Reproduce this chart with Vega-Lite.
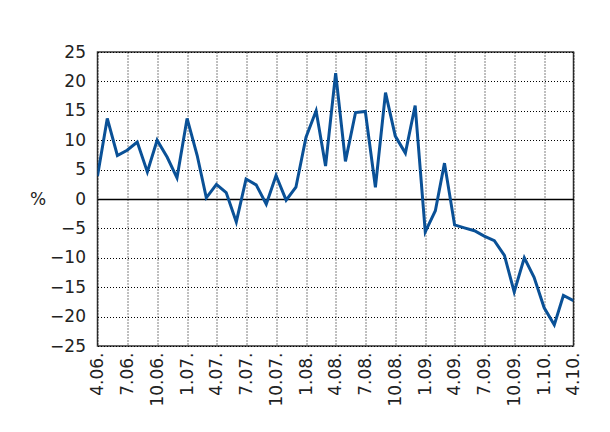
{
  "$schema": "https://vega.github.io/schema/vega-lite/v6.json",
  "autosize": {"type": "none"},
  "padding": {"left": 97.5, "top": 52, "right": 36, "bottom": 86},
  "width": 476,
  "height": 294,
  "background": "white",
  "config": {
    "view": {"stroke": "#333333", "strokeWidth": 1.5},
    "font": "DejaVu Sans"
  },
  "data": {
    "values": [
      {"date": "2006-04-01", "value": 3.9},
      {"date": "2006-05-01", "value": 13.7},
      {"date": "2006-06-01", "value": 7.4},
      {"date": "2006-07-01", "value": 8.3},
      {"date": "2006-08-01", "value": 9.7},
      {"date": "2006-09-01", "value": 4.6},
      {"date": "2006-10-01", "value": 10.0},
      {"date": "2006-11-01", "value": 7.1},
      {"date": "2006-12-01", "value": 3.6},
      {"date": "2007-01-01", "value": 13.7},
      {"date": "2007-02-01", "value": 7.4},
      {"date": "2007-03-01", "value": 0.2},
      {"date": "2007-04-01", "value": 2.5},
      {"date": "2007-05-01", "value": 1.1},
      {"date": "2007-06-01", "value": -3.9},
      {"date": "2007-07-01", "value": 3.4},
      {"date": "2007-08-01", "value": 2.4},
      {"date": "2007-09-01", "value": -0.9},
      {"date": "2007-10-01", "value": 4.0},
      {"date": "2007-11-01", "value": -0.2},
      {"date": "2007-12-01", "value": 2.0},
      {"date": "2008-01-01", "value": 10.5},
      {"date": "2008-02-01", "value": 15.0},
      {"date": "2008-03-01", "value": 5.6},
      {"date": "2008-04-01", "value": 21.4},
      {"date": "2008-05-01", "value": 6.4},
      {"date": "2008-06-01", "value": 14.7},
      {"date": "2008-07-01", "value": 14.9},
      {"date": "2008-08-01", "value": 2.0},
      {"date": "2008-09-01", "value": 18.1},
      {"date": "2008-10-01", "value": 10.7},
      {"date": "2008-11-01", "value": 7.8},
      {"date": "2008-12-01", "value": 15.9},
      {"date": "2009-01-01", "value": -5.6},
      {"date": "2009-02-01", "value": -2.0},
      {"date": "2009-03-01", "value": 6.1},
      {"date": "2009-04-01", "value": -4.4},
      {"date": "2009-05-01", "value": -4.9},
      {"date": "2009-06-01", "value": -5.4},
      {"date": "2009-07-01", "value": -6.3},
      {"date": "2009-08-01", "value": -7.1},
      {"date": "2009-09-01", "value": -9.6},
      {"date": "2009-10-01", "value": -15.8},
      {"date": "2009-11-01", "value": -10.0},
      {"date": "2009-12-01", "value": -13.3},
      {"date": "2010-01-01", "value": -18.5},
      {"date": "2010-02-01", "value": -21.4},
      {"date": "2010-03-01", "value": -16.4},
      {"date": "2010-04-01", "value": -17.3}
    ]
  },
  "mark": {"type": "line", "color": "#0a5197", "strokeWidth": 3, "strokeJoin": "miter", "clip": true},
  "encoding": {
    "x": {
      "field": "date",
      "type": "temporal",
      "scale": {"type": "utc", "domain": ["2006-04-01", "2010-04-01"]},
      "axis": {
        "title": null,
        "labelExpr": "utcFormat(datum.value, '%-m.%y.')",
        "tickCount": {"interval": "month", "step": 3},
        "labelAngle": -90,
        "labelAlign": "right",
        "labelBaseline": "middle",
        "labelFontSize": 17,
        "labelColor": "#222222",
        "labelPadding": 6,
        "labelOverlap": false,
        "labelFlush": false,
        "ticks": false,
        "domain": false,
        "grid": true,
        "gridColor": "#000000",
        "gridDash": [1, 2],
        "gridWidth": 1,
        "gridOpacity": 1
      }
    },
    "y": {
      "field": "value",
      "type": "quantitative",
      "scale": {"domain": [-25, 25], "nice": false, "zero": false},
      "axis": {
        "values": [-25, -20, -15, -10, -5, 0, 5, 10, 15, 20, 25],
        "labelExpr": "replace(format(datum.value, 'd'), '-', '−')",
        "labelFontSize": 17,
        "labelColor": "#222222",
        "labelPadding": 12,
        "labelOverlap": false,
        "labelFlush": false,
        "ticks": false,
        "domain": false,
        "grid": true,
        "gridColor": "#000000",
        "gridDash": {"condition": {"test": "datum.value === 0", "value": []}, "value": [1, 2]},
        "gridWidth": {"condition": {"test": "datum.value === 0", "value": 1.3}, "value": 1},
        "gridOpacity": 1,
        "title": "%",
        "titleAngle": 0,
        "titleFontSize": 17,
        "titleFontWeight": "normal",
        "titleColor": "#222222",
        "titleAlign": "center",
        "titleBaseline": "middle",
        "titleX": -60,
        "titleY": 147
      }
    }
  }
}
